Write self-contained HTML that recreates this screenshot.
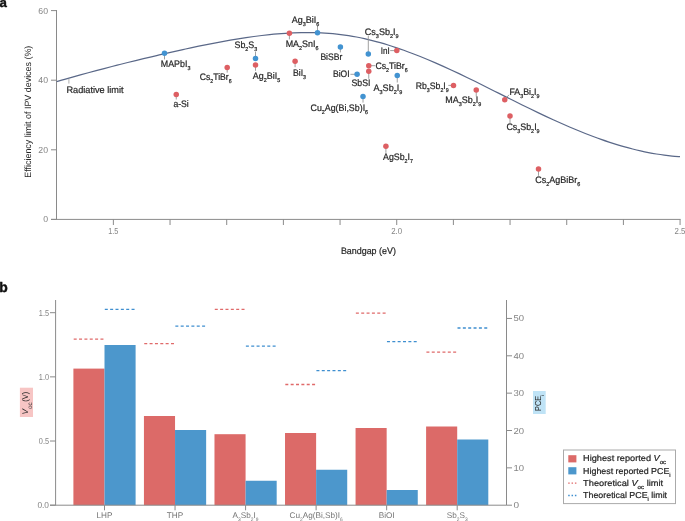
<!DOCTYPE html>
<html><head><meta charset="utf-8"><style>
html,body{margin:0;padding:0;background:#fff;width:685px;height:521px;overflow:hidden;}
svg{display:block;will-change:transform;}
text{font-family:"Liberation Sans", sans-serif;text-rendering:geometricPrecision;}
</style></head><body>
<svg width="685" height="521" viewBox="0 0 685 521" font-family='"Liberation Sans", sans-serif'><text x="-0.50" y="7.00" font-size="13.2" fill="#111" text-anchor="start" font-weight="bold" stroke="#111" stroke-width="0.45"><tspan>a</tspan></text>
<line x1="56.50" y1="10.00" x2="56.50" y2="219.40" stroke="#8a8a8a" stroke-width="1" />
<line x1="51.00" y1="219.40" x2="680.60" y2="219.40" stroke="#8a8a8a" stroke-width="1" />
<line x1="51.00" y1="219.40" x2="56.50" y2="219.40" stroke="#8a8a8a" stroke-width="1" />
<text x="48.00" y="222.40" font-size="8.7" fill="#848484" text-anchor="end" font-weight="normal" ><tspan>0</tspan></text>
<line x1="51.00" y1="149.80" x2="56.50" y2="149.80" stroke="#8a8a8a" stroke-width="1" />
<text x="48.00" y="152.80" font-size="8.7" fill="#848484" text-anchor="end" font-weight="normal" ><tspan>20</tspan></text>
<line x1="51.00" y1="80.20" x2="56.50" y2="80.20" stroke="#8a8a8a" stroke-width="1" />
<text x="48.00" y="83.20" font-size="8.7" fill="#848484" text-anchor="end" font-weight="normal" ><tspan>40</tspan></text>
<line x1="51.00" y1="10.60" x2="56.50" y2="10.60" stroke="#8a8a8a" stroke-width="1" />
<text x="48.00" y="13.60" font-size="8.7" fill="#848484" text-anchor="end" font-weight="normal" ><tspan>60</tspan></text>
<line x1="113.37" y1="219.40" x2="113.37" y2="225.00" stroke="#8a8a8a" stroke-width="1" />
<line x1="170.04" y1="219.40" x2="170.04" y2="225.00" stroke="#8a8a8a" stroke-width="1" />
<line x1="226.71" y1="219.40" x2="226.71" y2="225.00" stroke="#8a8a8a" stroke-width="1" />
<line x1="283.38" y1="219.40" x2="283.38" y2="225.00" stroke="#8a8a8a" stroke-width="1" />
<line x1="340.05" y1="219.40" x2="340.05" y2="225.00" stroke="#8a8a8a" stroke-width="1" />
<line x1="396.72" y1="219.40" x2="396.72" y2="225.00" stroke="#8a8a8a" stroke-width="1" />
<line x1="453.39" y1="219.40" x2="453.39" y2="225.00" stroke="#8a8a8a" stroke-width="1" />
<line x1="510.06" y1="219.40" x2="510.06" y2="225.00" stroke="#8a8a8a" stroke-width="1" />
<line x1="566.73" y1="219.40" x2="566.73" y2="225.00" stroke="#8a8a8a" stroke-width="1" />
<line x1="623.40" y1="219.40" x2="623.40" y2="225.00" stroke="#8a8a8a" stroke-width="1" />
<line x1="680.07" y1="219.40" x2="680.07" y2="225.00" stroke="#8a8a8a" stroke-width="1" />
<text x="113.27" y="234.00" font-size="8.7" fill="#848484" text-anchor="middle" font-weight="normal" textLength="10.00" lengthAdjust="spacingAndGlyphs" ><tspan>1.5</tspan></text>
<text x="396.62" y="234.00" font-size="8.7" fill="#848484" text-anchor="middle" font-weight="normal" textLength="10.90" lengthAdjust="spacingAndGlyphs" ><tspan>2.0</tspan></text>
<text x="679.97" y="234.00" font-size="8.7" fill="#848484" text-anchor="middle" font-weight="normal" textLength="10.90" lengthAdjust="spacingAndGlyphs" ><tspan>2.5</tspan></text>
<text x="368.40" y="254.30" font-size="9.3" fill="#262626" text-anchor="middle" font-weight="normal" textLength="55.00" lengthAdjust="spacingAndGlyphs"  stroke="#262626" stroke-width="0.22"><tspan>Bandgap (eV)</tspan></text>
<text transform="translate(31,111.7) rotate(-90)" font-size="9.1" fill="#262626" text-anchor="middle" textLength="132" lengthAdjust="spacingAndGlyphs">Efficiency limit of IPV devices (%)</text>
<path d="M56.70,81.60 C58.01,81.22 61.96,80.07 64.59,79.32 C67.22,78.57 69.85,77.83 72.48,77.09 C75.11,76.36 77.74,75.63 80.37,74.90 C83.00,74.18 85.63,73.46 88.26,72.75 C90.89,72.04 93.52,71.33 96.15,70.64 C98.78,69.94 101.41,69.25 104.04,68.56 C106.67,67.87 109.30,67.19 111.93,66.52 C114.56,65.84 117.19,65.18 119.82,64.51 C122.45,63.85 125.08,63.19 127.71,62.54 C130.34,61.89 132.97,61.24 135.60,60.60 C138.23,59.96 140.86,59.32 143.49,58.69 C146.12,58.05 148.75,57.43 151.38,56.81 C154.01,56.18 156.64,55.57 159.27,54.95 C161.90,54.34 164.53,53.73 167.16,53.13 C169.79,52.53 172.42,51.93 175.05,51.33 C177.68,50.74 180.31,50.15 182.94,49.57 C185.57,49.00 188.20,48.42 190.83,47.86 C193.46,47.29 196.09,46.74 198.72,46.19 C201.35,45.65 203.98,45.11 206.61,44.58 C209.24,44.06 211.87,43.54 214.50,43.04 C217.13,42.53 219.76,42.04 222.39,41.56 C225.02,41.08 227.65,40.61 230.28,40.16 C232.91,39.71 235.54,39.27 238.17,38.85 C240.80,38.43 243.43,38.02 246.06,37.63 C248.69,37.24 251.32,36.86 253.95,36.51 C256.58,36.15 259.21,35.82 261.84,35.50 C264.47,35.19 267.10,34.89 269.73,34.62 C272.36,34.35 274.99,34.10 277.62,33.88 C280.25,33.65 282.88,33.46 285.51,33.29 C288.14,33.12 290.77,32.97 293.40,32.86 C296.03,32.75 298.66,32.67 301.29,32.62 C303.92,32.57 306.55,32.55 309.18,32.57 C311.81,32.58 314.44,32.63 317.07,32.72 C319.70,32.81 322.33,32.93 324.96,33.09 C327.59,33.25 330.22,33.45 332.85,33.70 C335.48,33.94 338.11,34.22 340.74,34.55 C343.37,34.87 346.00,35.24 348.63,35.65 C351.26,36.07 353.89,36.53 356.52,37.03 C359.15,37.53 361.78,38.08 364.41,38.67 C367.04,39.26 369.66,39.89 372.29,40.56 C374.92,41.23 377.55,41.94 380.18,42.68 C382.81,43.42 385.44,44.21 388.07,45.02 C390.70,45.83 393.33,46.68 395.96,47.56 C398.59,48.44 401.22,49.36 403.85,50.30 C406.48,51.24 409.11,52.21 411.74,53.20 C414.37,54.20 417.00,55.22 419.63,56.27 C422.26,57.32 424.89,58.39 427.52,59.49 C430.15,60.59 432.78,61.71 435.41,62.85 C438.04,63.99 440.67,65.16 443.30,66.34 C445.93,67.52 448.56,68.73 451.19,69.95 C453.82,71.17 456.45,72.41 459.08,73.66 C461.71,74.91 464.34,76.18 466.97,77.45 C469.60,78.73 472.23,80.02 474.86,81.32 C477.49,82.61 480.12,83.92 482.75,85.23 C485.38,86.54 488.01,87.86 490.64,89.17 C493.27,90.49 495.90,91.82 498.53,93.14 C501.16,94.46 503.79,95.78 506.42,97.10 C509.05,98.42 511.68,99.74 514.31,101.05 C516.94,102.36 519.57,103.66 522.20,104.96 C524.83,106.26 527.46,107.55 530.09,108.82 C532.72,110.10 535.35,111.37 537.98,112.63 C540.61,113.88 543.24,115.13 545.87,116.36 C548.50,117.58 551.13,118.80 553.76,120.00 C556.39,121.20 559.02,122.38 561.65,123.54 C564.28,124.71 566.91,125.85 569.54,126.98 C572.17,128.10 574.80,129.21 577.43,130.29 C580.06,131.37 582.69,132.43 585.32,133.47 C587.95,134.50 590.58,135.51 593.21,136.50 C595.84,137.48 598.47,138.44 601.10,139.37 C603.73,140.30 606.36,141.20 608.99,142.07 C611.62,142.94 614.25,143.78 616.88,144.59 C619.51,145.39 622.14,146.17 624.77,146.91 C627.40,147.65 630.03,148.35 632.66,149.02 C635.29,149.69 637.92,150.32 640.55,150.91 C643.18,151.50 645.81,152.06 648.44,152.57 C651.07,153.09 653.70,153.56 656.33,153.99 C658.96,154.42 661.59,154.81 664.22,155.15 C666.85,155.49 669.48,155.79 672.11,156.04 C674.74,156.29 678.69,156.55 680.00,156.65" fill="none" stroke="#5a6888" stroke-width="1.2"/>
<line x1="68.90" y1="78.80" x2="68.90" y2="83.60" stroke="#b0b0b0" stroke-width="1" />
<text x="66.50" y="92.90" font-size="9.4" fill="#262626" text-anchor="start" font-weight="normal" textLength="57.00" lengthAdjust="spacingAndGlyphs"  stroke="#262626" stroke-width="0.22"><tspan>Radiative limit</tspan></text>
<line x1="164.50" y1="55.00" x2="164.50" y2="59.40" stroke="#959595" stroke-width="0.9" />
<line x1="176.25" y1="96.00" x2="176.25" y2="99.50" stroke="#959595" stroke-width="0.9" />
<line x1="227.20" y1="69.00" x2="227.20" y2="72.60" stroke="#959595" stroke-width="0.9" />
<line x1="255.50" y1="52.00" x2="255.50" y2="57.00" stroke="#959595" stroke-width="0.9" />
<line x1="255.50" y1="66.50" x2="255.50" y2="70.80" stroke="#959595" stroke-width="0.9" />
<line x1="289.40" y1="34.50" x2="289.40" y2="39.40" stroke="#959595" stroke-width="0.9" />
<line x1="317.50" y1="25.60" x2="317.50" y2="31.00" stroke="#959595" stroke-width="0.9" />
<line x1="295.10" y1="62.50" x2="295.10" y2="67.20" stroke="#959595" stroke-width="0.9" />
<line x1="340.40" y1="48.50" x2="340.40" y2="52.40" stroke="#959595" stroke-width="0.9" />
<line x1="368.30" y1="36.00" x2="368.30" y2="52.00" stroke="#959595" stroke-width="0.9" />
<line x1="350.40" y1="74.30" x2="355.00" y2="74.30" stroke="#959595" stroke-width="0.9" />
<line x1="368.75" y1="73.00" x2="368.75" y2="78.80" stroke="#959595" stroke-width="0.9" />
<line x1="370.00" y1="65.70" x2="375.20" y2="65.70" stroke="#959595" stroke-width="0.9" />
<line x1="390.20" y1="50.60" x2="395.00" y2="50.60" stroke="#959595" stroke-width="0.9" />
<line x1="397.25" y1="77.00" x2="397.25" y2="82.50" stroke="#959595" stroke-width="0.9" />
<line x1="363.00" y1="98.00" x2="363.00" y2="102.60" stroke="#959595" stroke-width="0.9" />
<line x1="385.90" y1="147.70" x2="385.90" y2="152.80" stroke="#959595" stroke-width="0.9" />
<line x1="448.30" y1="85.40" x2="452.00" y2="85.40" stroke="#959595" stroke-width="0.9" />
<line x1="476.25" y1="91.40" x2="476.25" y2="96.50" stroke="#959595" stroke-width="0.9" />
<line x1="506.50" y1="97.70" x2="509.00" y2="94.80" stroke="#959595" stroke-width="0.9" />
<line x1="510.00" y1="117.40" x2="510.00" y2="123.20" stroke="#959595" stroke-width="0.9" />
<line x1="538.50" y1="170.40" x2="538.50" y2="175.80" stroke="#959595" stroke-width="0.9" />
<circle cx="164.50" cy="53.30" r="2.75" fill="#4293d1"/>
<text x="160.80" y="67.00" font-size="9.4" fill="#262626" text-anchor="start" font-weight="normal" textLength="29.60" lengthAdjust="spacingAndGlyphs"  stroke="#262626" stroke-width="0.22"><tspan>MAPbI</tspan><tspan font-size="5.7" dy="3.0">3</tspan></text>
<circle cx="176.25" cy="94.60" r="2.75" fill="#dd5f63"/>
<text x="173.40" y="107.20" font-size="9.4" fill="#262626" text-anchor="start" font-weight="normal" textLength="15.40" lengthAdjust="spacingAndGlyphs"  stroke="#262626" stroke-width="0.22"><tspan>a-Si</tspan></text>
<circle cx="227.20" cy="67.60" r="2.75" fill="#dd5f63"/>
<text x="199.80" y="79.80" font-size="9.4" fill="#262626" text-anchor="start" font-weight="normal" textLength="31.80" lengthAdjust="spacingAndGlyphs"  stroke="#262626" stroke-width="0.22"><tspan>Cs</tspan><tspan font-size="5.7" dy="3.0">2</tspan><tspan dy="-3.0">TiBr</tspan><tspan font-size="5.7" dy="3.0">6</tspan></text>
<circle cx="255.50" cy="58.40" r="2.75" fill="#4293d1"/>
<text x="234.50" y="48.20" font-size="9.4" fill="#262626" text-anchor="start" font-weight="normal" textLength="22.80" lengthAdjust="spacingAndGlyphs"  stroke="#262626" stroke-width="0.22"><tspan>Sb</tspan><tspan font-size="5.7" dy="3.0">2</tspan><tspan dy="-3.0">S</tspan><tspan font-size="5.7" dy="3.0">3</tspan></text>
<circle cx="255.50" cy="65.10" r="2.75" fill="#dd5f63"/>
<text x="252.80" y="78.60" font-size="9.4" fill="#262626" text-anchor="start" font-weight="normal" textLength="27.40" lengthAdjust="spacingAndGlyphs"  stroke="#262626" stroke-width="0.22"><tspan>Ag</tspan><tspan font-size="5.7" dy="3.0">2</tspan><tspan dy="-3.0">BiI</tspan><tspan font-size="5.7" dy="3.0">5</tspan></text>
<circle cx="289.40" cy="33.20" r="2.75" fill="#dd5f63"/>
<text x="285.70" y="46.80" font-size="9.4" fill="#262626" text-anchor="start" font-weight="normal" textLength="32.80" lengthAdjust="spacingAndGlyphs"  stroke="#262626" stroke-width="0.22"><tspan>MA</tspan><tspan font-size="5.7" dy="3.0">2</tspan><tspan dy="-3.0">SnI</tspan><tspan font-size="5.7" dy="3.0">6</tspan></text>
<circle cx="317.50" cy="32.80" r="2.75" fill="#4293d1"/>
<text x="291.70" y="22.90" font-size="9.4" fill="#262626" text-anchor="start" font-weight="normal" textLength="27.60" lengthAdjust="spacingAndGlyphs"  stroke="#262626" stroke-width="0.22"><tspan>Ag</tspan><tspan font-size="5.7" dy="3.0">3</tspan><tspan dy="-3.0">BiI</tspan><tspan font-size="5.7" dy="3.0">6</tspan></text>
<circle cx="295.10" cy="61.30" r="2.75" fill="#dd5f63"/>
<text x="293.00" y="75.70" font-size="9.4" fill="#262626" text-anchor="start" font-weight="normal" textLength="13.00" lengthAdjust="spacingAndGlyphs"  stroke="#262626" stroke-width="0.22"><tspan>BiI</tspan><tspan font-size="5.7" dy="3.0">3</tspan></text>
<circle cx="340.40" cy="47.10" r="2.75" fill="#4293d1"/>
<text x="320.40" y="60.00" font-size="9.4" fill="#262626" text-anchor="start" font-weight="normal" textLength="21.90" lengthAdjust="spacingAndGlyphs"  stroke="#262626" stroke-width="0.22"><tspan>BiSBr</tspan></text>
<circle cx="368.30" cy="54.10" r="2.75" fill="#4293d1"/>
<text x="364.80" y="35.20" font-size="9.4" fill="#262626" text-anchor="start" font-weight="normal" textLength="33.80" lengthAdjust="spacingAndGlyphs"  stroke="#262626" stroke-width="0.22"><tspan>Cs</tspan><tspan font-size="5.7" dy="3.0">3</tspan><tspan dy="-3.0">Sb</tspan><tspan font-size="5.7" dy="3.0">2</tspan><tspan dy="-3.0">I</tspan><tspan font-size="5.7" dy="3.0">9</tspan></text>
<circle cx="357.10" cy="74.30" r="2.75" fill="#4293d1"/>
<text x="333.00" y="76.80" font-size="9.4" fill="#262626" text-anchor="start" font-weight="normal" textLength="16.60" lengthAdjust="spacingAndGlyphs"  stroke="#262626" stroke-width="0.22"><tspan>BiOI</tspan></text>
<circle cx="368.75" cy="71.20" r="2.75" fill="#dd5f63"/>
<text x="351.50" y="86.20" font-size="9.4" fill="#262626" text-anchor="start" font-weight="normal" textLength="19.00" lengthAdjust="spacingAndGlyphs"  stroke="#262626" stroke-width="0.22"><tspan>SbSI</tspan></text>
<circle cx="368.75" cy="65.70" r="2.75" fill="#dd5f63"/>
<text x="375.40" y="69.10" font-size="9.4" fill="#262626" text-anchor="start" font-weight="normal" textLength="32.30" lengthAdjust="spacingAndGlyphs"  stroke="#262626" stroke-width="0.22"><tspan>Cs</tspan><tspan font-size="5.7" dy="3.0">2</tspan><tspan dy="-3.0">TiBr</tspan><tspan font-size="5.7" dy="3.0">6</tspan></text>
<circle cx="396.80" cy="50.60" r="2.75" fill="#dd5f63"/>
<text x="380.80" y="54.00" font-size="9.4" fill="#262626" text-anchor="start" font-weight="normal" textLength="9.00" lengthAdjust="spacingAndGlyphs"  stroke="#262626" stroke-width="0.22"><tspan>InI</tspan></text>
<circle cx="397.25" cy="75.60" r="2.75" fill="#4293d1"/>
<text x="373.50" y="90.50" font-size="9.4" fill="#262626" text-anchor="start" font-weight="normal" textLength="28.80" lengthAdjust="spacingAndGlyphs"  stroke="#262626" stroke-width="0.22"><tspan>A</tspan><tspan font-size="5.7" dy="3.0">3</tspan><tspan dy="-3.0">Sb</tspan><tspan font-size="5.7" dy="3.0">2</tspan><tspan dy="-3.0">I</tspan><tspan font-size="5.7" dy="3.0">9</tspan></text>
<circle cx="363.00" cy="96.50" r="2.75" fill="#4293d1"/>
<text x="310.50" y="110.70" font-size="9.4" fill="#262626" text-anchor="start" font-weight="normal" textLength="57.60" lengthAdjust="spacingAndGlyphs"  stroke="#262626" stroke-width="0.22"><tspan>Cu</tspan><tspan font-size="5.7" dy="3.0">2</tspan><tspan dy="-3.0">Ag(Bi,Sb)I</tspan><tspan font-size="5.7" dy="3.0">6</tspan></text>
<circle cx="385.90" cy="146.20" r="2.75" fill="#dd5f63"/>
<text x="383.00" y="160.00" font-size="9.4" fill="#262626" text-anchor="start" font-weight="normal" textLength="30.00" lengthAdjust="spacingAndGlyphs"  stroke="#262626" stroke-width="0.22"><tspan>AgSb</tspan><tspan font-size="5.7" dy="3.0">2</tspan><tspan dy="-3.0">I</tspan><tspan font-size="5.7" dy="3.0">7</tspan></text>
<circle cx="453.50" cy="85.40" r="2.75" fill="#dd5f63"/>
<text x="415.70" y="88.50" font-size="9.4" fill="#262626" text-anchor="start" font-weight="normal" textLength="33.00" lengthAdjust="spacingAndGlyphs"  stroke="#262626" stroke-width="0.22"><tspan>Rb</tspan><tspan font-size="5.7" dy="3.0">3</tspan><tspan dy="-3.0">Sb</tspan><tspan font-size="5.7" dy="3.0">2</tspan><tspan dy="-3.0">I</tspan><tspan font-size="5.7" dy="3.0">9</tspan></text>
<circle cx="476.25" cy="90.00" r="2.75" fill="#dd5f63"/>
<text x="445.20" y="103.40" font-size="9.4" fill="#262626" text-anchor="start" font-weight="normal" textLength="36.00" lengthAdjust="spacingAndGlyphs"  stroke="#262626" stroke-width="0.22"><tspan>MA</tspan><tspan font-size="5.7" dy="3.0">3</tspan><tspan dy="-3.0">Sb</tspan><tspan font-size="5.7" dy="3.0">2</tspan><tspan dy="-3.0">I</tspan><tspan font-size="5.7" dy="3.0">9</tspan></text>
<circle cx="504.75" cy="99.80" r="2.75" fill="#dd5f63"/>
<text x="509.40" y="94.60" font-size="9.4" fill="#262626" text-anchor="start" font-weight="normal" textLength="30.00" lengthAdjust="spacingAndGlyphs"  stroke="#262626" stroke-width="0.22"><tspan>FA</tspan><tspan font-size="5.7" dy="3.0">3</tspan><tspan dy="-3.0">Bi</tspan><tspan font-size="5.7" dy="3.0">2</tspan><tspan dy="-3.0">I</tspan><tspan font-size="5.7" dy="3.0">9</tspan></text>
<circle cx="510.00" cy="116.00" r="2.75" fill="#dd5f63"/>
<text x="506.40" y="129.70" font-size="9.4" fill="#262626" text-anchor="start" font-weight="normal" textLength="33.20" lengthAdjust="spacingAndGlyphs"  stroke="#262626" stroke-width="0.22"><tspan>Cs</tspan><tspan font-size="5.7" dy="3.0">3</tspan><tspan dy="-3.0">Sb</tspan><tspan font-size="5.7" dy="3.0">2</tspan><tspan dy="-3.0">I</tspan><tspan font-size="5.7" dy="3.0">9</tspan></text>
<circle cx="538.50" cy="169.00" r="2.75" fill="#dd5f63"/>
<text x="535.30" y="183.00" font-size="9.4" fill="#262626" text-anchor="start" font-weight="normal" textLength="45.00" lengthAdjust="spacingAndGlyphs"  stroke="#262626" stroke-width="0.22"><tspan>Cs</tspan><tspan font-size="5.7" dy="3.0">2</tspan><tspan dy="-3.0">AgBiBr</tspan><tspan font-size="5.7" dy="3.0">6</tspan></text>
<text x="-0.70" y="291.70" font-size="13.9" fill="#111" text-anchor="start" font-weight="bold" stroke="#111" stroke-width="0.45"><tspan>b</tspan></text>
<rect x="73.40" y="368.60" width="31.10" height="136.60" fill="#dc6a68" />
<rect x="104.50" y="345.00" width="31.10" height="160.20" fill="#4c97cc" />
<rect x="143.94" y="416.00" width="31.10" height="89.20" fill="#dc6a68" />
<rect x="175.04" y="430.00" width="31.10" height="75.20" fill="#4c97cc" />
<rect x="214.48" y="434.20" width="31.10" height="71.00" fill="#dc6a68" />
<rect x="245.58" y="480.75" width="31.10" height="24.45" fill="#4c97cc" />
<rect x="285.02" y="433.00" width="31.10" height="72.20" fill="#dc6a68" />
<rect x="316.12" y="469.75" width="31.10" height="35.45" fill="#4c97cc" />
<rect x="355.56" y="428.00" width="31.10" height="77.20" fill="#dc6a68" />
<rect x="386.66" y="490.00" width="31.10" height="15.20" fill="#4c97cc" />
<rect x="426.10" y="426.50" width="31.10" height="78.70" fill="#dc6a68" />
<rect x="457.20" y="439.50" width="31.10" height="65.70" fill="#4c97cc" />
<line x1="73.70" y1="339.20" x2="104.20" y2="339.20" stroke="#e06a6a" stroke-width="1.3" stroke-dasharray="3 2.35"/>
<line x1="104.80" y1="309.30" x2="135.30" y2="309.30" stroke="#3f8fd0" stroke-width="1.3" stroke-dasharray="3 2.35"/>
<line x1="144.24" y1="343.70" x2="174.74" y2="343.70" stroke="#e06a6a" stroke-width="1.3" stroke-dasharray="3 2.35"/>
<line x1="175.34" y1="326.20" x2="205.84" y2="326.20" stroke="#3f8fd0" stroke-width="1.3" stroke-dasharray="3 2.35"/>
<line x1="214.78" y1="309.40" x2="245.28" y2="309.40" stroke="#e06a6a" stroke-width="1.3" stroke-dasharray="3 2.35"/>
<line x1="245.88" y1="346.20" x2="276.38" y2="346.20" stroke="#3f8fd0" stroke-width="1.3" stroke-dasharray="3 2.35"/>
<line x1="285.32" y1="384.50" x2="315.82" y2="384.50" stroke="#e06a6a" stroke-width="1.3" stroke-dasharray="3 2.35"/>
<line x1="316.42" y1="370.60" x2="346.92" y2="370.60" stroke="#3f8fd0" stroke-width="1.3" stroke-dasharray="3 2.35"/>
<line x1="355.86" y1="313.20" x2="386.36" y2="313.20" stroke="#e06a6a" stroke-width="1.3" stroke-dasharray="3 2.35"/>
<line x1="386.96" y1="341.70" x2="417.46" y2="341.70" stroke="#3f8fd0" stroke-width="1.3" stroke-dasharray="3 2.35"/>
<line x1="426.40" y1="352.20" x2="456.90" y2="352.20" stroke="#e06a6a" stroke-width="1.3" stroke-dasharray="3 2.35"/>
<line x1="457.50" y1="328.00" x2="488.00" y2="328.00" stroke="#3f8fd0" stroke-width="1.3" stroke-dasharray="3 2.35"/>
<line x1="55.60" y1="300.00" x2="55.60" y2="505.20" stroke="#8a8a8a" stroke-width="1" />
<line x1="506.50" y1="300.00" x2="506.50" y2="505.20" stroke="#8a8a8a" stroke-width="1" />
<line x1="50.00" y1="505.20" x2="506.50" y2="505.20" stroke="#8a8a8a" stroke-width="1" />
<line x1="50.00" y1="505.20" x2="55.60" y2="505.20" stroke="#8a8a8a" stroke-width="1" />
<text x="49.00" y="508.20" font-size="8.7" fill="#848484" text-anchor="end" font-weight="normal" textLength="11.60" lengthAdjust="spacingAndGlyphs" ><tspan>0.0</tspan></text>
<line x1="50.00" y1="441.03" x2="55.60" y2="441.03" stroke="#8a8a8a" stroke-width="1" />
<text x="49.00" y="444.03" font-size="8.7" fill="#848484" text-anchor="end" font-weight="normal" textLength="10.20" lengthAdjust="spacingAndGlyphs" ><tspan>0.5</tspan></text>
<line x1="50.00" y1="376.87" x2="55.60" y2="376.87" stroke="#8a8a8a" stroke-width="1" />
<text x="49.00" y="379.87" font-size="8.7" fill="#848484" text-anchor="end" font-weight="normal" textLength="10.20" lengthAdjust="spacingAndGlyphs" ><tspan>1.0</tspan></text>
<line x1="50.00" y1="312.70" x2="55.60" y2="312.70" stroke="#8a8a8a" stroke-width="1" />
<text x="49.00" y="315.70" font-size="8.7" fill="#848484" text-anchor="end" font-weight="normal" textLength="10.20" lengthAdjust="spacingAndGlyphs" ><tspan>1.5</tspan></text>
<line x1="506.50" y1="505.20" x2="512.00" y2="505.20" stroke="#8a8a8a" stroke-width="1" />
<text x="513.40" y="508.20" font-size="8.7" fill="#848484" text-anchor="start" font-weight="normal" textLength="5.60" lengthAdjust="spacingAndGlyphs" ><tspan>0</tspan></text>
<line x1="506.50" y1="467.85" x2="512.00" y2="467.85" stroke="#8a8a8a" stroke-width="1" />
<text x="513.40" y="470.85" font-size="8.7" fill="#848484" text-anchor="start" font-weight="normal" textLength="10.60" lengthAdjust="spacingAndGlyphs" ><tspan>10</tspan></text>
<line x1="506.50" y1="430.50" x2="512.00" y2="430.50" stroke="#8a8a8a" stroke-width="1" />
<text x="513.40" y="433.50" font-size="8.7" fill="#848484" text-anchor="start" font-weight="normal" textLength="10.60" lengthAdjust="spacingAndGlyphs" ><tspan>20</tspan></text>
<line x1="506.50" y1="393.15" x2="512.00" y2="393.15" stroke="#8a8a8a" stroke-width="1" />
<text x="513.40" y="396.15" font-size="8.7" fill="#848484" text-anchor="start" font-weight="normal" textLength="10.60" lengthAdjust="spacingAndGlyphs" ><tspan>30</tspan></text>
<line x1="506.50" y1="355.80" x2="512.00" y2="355.80" stroke="#8a8a8a" stroke-width="1" />
<text x="513.40" y="358.80" font-size="8.7" fill="#848484" text-anchor="start" font-weight="normal" textLength="10.60" lengthAdjust="spacingAndGlyphs" ><tspan>40</tspan></text>
<line x1="506.50" y1="318.45" x2="512.00" y2="318.45" stroke="#8a8a8a" stroke-width="1" />
<text x="513.40" y="321.45" font-size="8.7" fill="#848484" text-anchor="start" font-weight="normal" textLength="10.60" lengthAdjust="spacingAndGlyphs" ><tspan>50</tspan></text>
<line x1="104.50" y1="505.20" x2="104.50" y2="510.30" stroke="#8a8a8a" stroke-width="1" />
<line x1="175.04" y1="505.20" x2="175.04" y2="510.30" stroke="#8a8a8a" stroke-width="1" />
<line x1="245.58" y1="505.20" x2="245.58" y2="510.30" stroke="#8a8a8a" stroke-width="1" />
<line x1="316.12" y1="505.20" x2="316.12" y2="510.30" stroke="#8a8a8a" stroke-width="1" />
<line x1="386.66" y1="505.20" x2="386.66" y2="510.30" stroke="#8a8a8a" stroke-width="1" />
<line x1="457.20" y1="505.20" x2="457.20" y2="510.30" stroke="#8a8a8a" stroke-width="1" />
<text x="104.50" y="517.80" font-size="8.2" fill="#747474" text-anchor="middle" font-weight="normal" ><tspan>LHP</tspan></text>
<text x="175.04" y="517.80" font-size="8.2" fill="#747474" text-anchor="middle" font-weight="normal" ><tspan>THP</tspan></text>
<text x="245.58" y="517.80" font-size="8.2" fill="#747474" text-anchor="middle" font-weight="normal" ><tspan>A</tspan><tspan font-size="4.9" dy="3.0">3</tspan><tspan dy="-3.0">Sb</tspan><tspan font-size="4.9" dy="3.0">2</tspan><tspan dy="-3.0">I</tspan><tspan font-size="4.9" dy="3.0">9</tspan></text>
<text x="316.12" y="517.80" font-size="8.2" fill="#747474" text-anchor="middle" font-weight="normal" ><tspan>Cu</tspan><tspan font-size="4.9" dy="3.0">2</tspan><tspan dy="-3.0">Ag(Bi,Sb)I</tspan><tspan font-size="4.9" dy="3.0">6</tspan></text>
<text x="386.66" y="517.80" font-size="8.2" fill="#747474" text-anchor="middle" font-weight="normal" ><tspan>BiOI</tspan></text>
<text x="457.20" y="517.80" font-size="8.2" fill="#747474" text-anchor="middle" font-weight="normal" ><tspan>Sb</tspan><tspan font-size="4.9" dy="3.0">2</tspan><tspan dy="-3.0">S</tspan><tspan font-size="4.9" dy="3.0">3</tspan></text>
<rect x="19.90" y="387.70" width="13.10" height="29.30" fill="#f7c5c4" />
<text transform="translate(27.9,414.6) rotate(-90)" font-size="8.3" fill="#262626" font-style="italic">V</text>
<text transform="translate(31.7,408.9) rotate(-90)" font-size="6.3" fill="#262626" textLength="6.6" lengthAdjust="spacingAndGlyphs">oc</text>
<text transform="translate(28.1,401.7) rotate(-90)" font-size="8.3" fill="#262626" textLength="9.8" lengthAdjust="spacingAndGlyphs">(V)</text>
<rect x="533.00" y="391.00" width="12.70" height="23.00" fill="#bfe3f6" />
<text transform="translate(541.1,411.0) rotate(-90)" font-size="8.7" fill="#262626" textLength="15.2" lengthAdjust="spacingAndGlyphs">PCE</text>
<text transform="translate(544.1,396.0) rotate(-90)" font-size="4.8" fill="#262626">i</text>
<rect x="563.5" y="450" width="112" height="53.6" fill="#fff" stroke="#aaaaaa" stroke-width="1"/>
<rect x="568.30" y="455.20" width="8.10" height="7.20" fill="#dc6a68" />
<rect x="568.30" y="467.20" width="8.10" height="7.20" fill="#4c97cc" />
<line x1="568.20" y1="483.10" x2="576.60" y2="483.10" stroke="#e06a6a" stroke-width="1.4" stroke-dasharray="1.5 1.85"/>
<line x1="568.20" y1="495.50" x2="576.60" y2="495.50" stroke="#3f8fd0" stroke-width="1.4" stroke-dasharray="1.5 1.85"/>
<text x="583.10" y="461.30" font-size="8.6" fill="#262626" text-anchor="start" font-weight="normal" textLength="83.00" lengthAdjust="spacingAndGlyphs"  stroke="#262626" stroke-width="0.22"><tspan>Highest reported </tspan><tspan font-style="italic">V</tspan><tspan font-size="5.7" dy="3.0">oc</tspan></text>
<text x="583.10" y="473.80" font-size="8.6" fill="#262626" text-anchor="start" font-weight="normal" textLength="87.50" lengthAdjust="spacingAndGlyphs"  stroke="#262626" stroke-width="0.22"><tspan>Highest reported PCE</tspan><tspan font-size="5.7" dy="3.0">i</tspan></text>
<text x="583.10" y="486.10" font-size="8.6" fill="#262626" text-anchor="start" font-weight="normal" textLength="80.00" lengthAdjust="spacingAndGlyphs"  stroke="#262626" stroke-width="0.22"><tspan>Theoretical </tspan><tspan font-style="italic">V</tspan><tspan font-size="5.7" dy="3.0">oc</tspan><tspan dy="-3.0"> limit</tspan></text>
<text x="583.10" y="497.90" font-size="8.6" fill="#262626" text-anchor="start" font-weight="normal" textLength="84.00" lengthAdjust="spacingAndGlyphs"  stroke="#262626" stroke-width="0.22"><tspan>Theoretical PCE</tspan><tspan font-size="5.7" dy="3.0">i</tspan><tspan dy="-3.0"> limit</tspan></text></svg>
</body></html>
